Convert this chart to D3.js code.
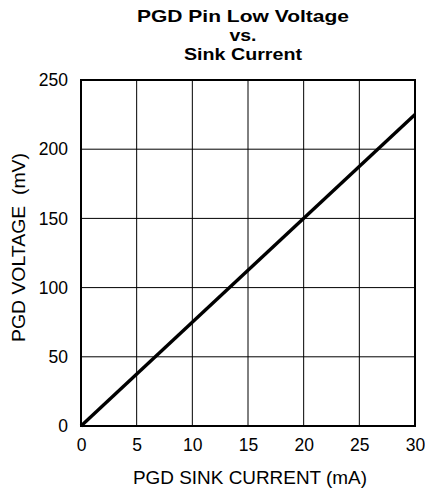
<!DOCTYPE html>
<html>
<head>
<meta charset="utf-8">
<script src="https://cdn.jsdelivr.net/npm/d3@7"></script>
<style>
  body { margin: 0; background: #fff; }
  text { font-family: "Liberation Sans", Arial, sans-serif; fill: #000; }
</style>
</head>
<body>
<svg id="chart"></svg>
<script>
// data
const sinkCurrent = [0, 30];        // mA
const pgdVoltage = [0, 225];        // mV
const xTicks = [0, 5, 10, 15, 20, 25, 30];
const yTicks = [0, 50, 100, 150, 200, 250];
const titleLines = ["PGD Pin Low Voltage", "vs.", "Sink Current"];

const width = 425, height = 489;
const margin = { top: 80, right: 10, bottom: 63, left: 81 };
const w = width - margin.left - margin.right;
const h = height - margin.top - margin.bottom;

const svg = d3.select("#chart").attr("width", width).attr("height", height);
const g = svg.append("g").attr("transform", `translate(${margin.left},${margin.top})`);

const x = d3.scaleLinear().domain([0, 30]).range([0, w]);
const y = d3.scaleLinear().domain([0, 250]).range([h, 0]);

// grid
g.selectAll(".vgrid").data(xTicks).join("line")
  .attr("x1", d => x(d)).attr("x2", d => x(d))
  .attr("y1", 0).attr("y2", h)
  .attr("stroke", "#000").attr("stroke-width", 1);
g.selectAll(".hgrid").data(yTicks).join("line")
  .attr("x1", 0).attr("x2", w)
  .attr("y1", d => y(d)).attr("y2", d => y(d))
  .attr("stroke", "#000").attr("stroke-width", 1);

// frame
g.append("rect").attr("width", w).attr("height", h)
  .attr("fill", "none").attr("stroke", "#000").attr("stroke-width", 2);

// axes (labels only)
const xAxis = g.append("g").attr("transform", `translate(0,${h})`)
  .call(d3.axisBottom(x).tickValues(xTicks).tickSize(0).tickPadding(13));
const yAxis = g.append("g")
  .call(d3.axisLeft(y).tickValues(yTicks).tickSize(0).tickPadding(13));
[xAxis, yAxis].forEach(a => {
  a.select(".domain").remove();
  a.selectAll("text").style("font-size", "17.5px").style("font-family", "Liberation Sans, Arial, sans-serif").attr("fill", "#000");
});

// data line
const pts = sinkCurrent.map((c, i) => [c, pgdVoltage[i]]);
g.append("path").datum(pts)
  .attr("fill", "none").attr("stroke", "#000").attr("stroke-width", 3.4)
  .attr("d", d3.line().x(d => x(d[0])).y(d => y(d[1])));

// titles
const titleWidths = [212, 27, 118];
svg.selectAll(".title").data(titleLines).join("text")
  .attr("x", 243).attr("y", (d, i) => 22 + i * 19)
  .attr("text-anchor", "middle").style("font-size", "17px").style("font-weight", "bold")
  .attr("textLength", (d, i) => titleWidths[i]).attr("lengthAdjust", "spacingAndGlyphs")
  .text(d => d);

svg.append("text")
  .attr("x", 250).attr("y", 484)
  .attr("text-anchor", "middle").style("font-size", "18px")
  .attr("textLength", 234).attr("lengthAdjust", "spacingAndGlyphs")
  .text("PGD SINK CURRENT (mA)");

svg.append("text")
  .attr("transform", "translate(25,247.5) rotate(-90)")
  .attr("text-anchor", "middle").style("font-size", "18px")
  .attr("xml:space", "preserve")
  .attr("textLength", 189).attr("lengthAdjust", "spacingAndGlyphs")
  .text("PGD VOLTAGE  (mV)");
</script>
</body>
</html>
